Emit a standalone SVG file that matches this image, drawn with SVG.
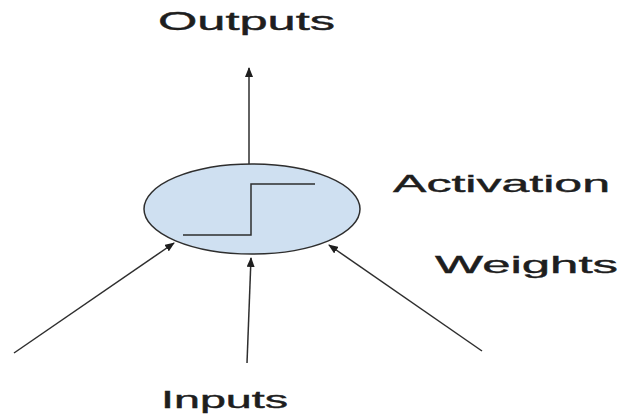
<svg xmlns="http://www.w3.org/2000/svg" width="634" height="417" viewBox="0 0 634 417">
<style>
.lbl{font-family:"Liberation Sans",Arial,sans-serif;fill:#1e1e1e;stroke:#1e1e1e;stroke-width:0.4;}
.conn{stroke:#2e2e2e;stroke-width:1.5;fill:none;}
</style>
<defs>
<marker id="ah" markerUnits="userSpaceOnUse" markerWidth="10" markerHeight="8" refX="9" refY="4" orient="auto">
<path d="M0,0 L10,4 L0,8 Z" fill="#1e1e1e"/>
</marker>
</defs>
<rect width="634" height="417" fill="#ffffff"/>
<g id="connectors">
<line class="conn" x1="249" y1="164" x2="249" y2="68" marker-end="url(#ah)"/>
<line class="conn" x1="14" y1="353" x2="174" y2="243" marker-end="url(#ah)"/>
<line class="conn" x1="247" y1="363" x2="251" y2="258" marker-end="url(#ah)"/>
<line class="conn" x1="482" y1="351" x2="329" y2="245" marker-end="url(#ah)"/>
</g>
<g id="neuron">
<ellipse cx="252" cy="209" rx="108" ry="45" fill="#cfe0f1" stroke="#2e2e2e" stroke-width="1.5"/>
<polyline points="183,235 251,235 251,184 315,184" fill="none" stroke="#2e2e2e" stroke-width="1.5"/>
</g>
<g id="outputs"><text class="lbl" x="158" y="30" font-size="25" textLength="177" lengthAdjust="spacingAndGlyphs">Outputs</text></g>
<g id="activation"><text class="lbl" x="393" y="192" font-size="24" textLength="217" lengthAdjust="spacingAndGlyphs">Activation</text></g>
<g id="weights"><text class="lbl" x="435" y="273" font-size="24" textLength="183" lengthAdjust="spacingAndGlyphs">Weights</text></g>
<g id="inputs"><text class="lbl" x="161" y="408" font-size="23" textLength="127" lengthAdjust="spacingAndGlyphs">Inputs</text></g>
</svg>
